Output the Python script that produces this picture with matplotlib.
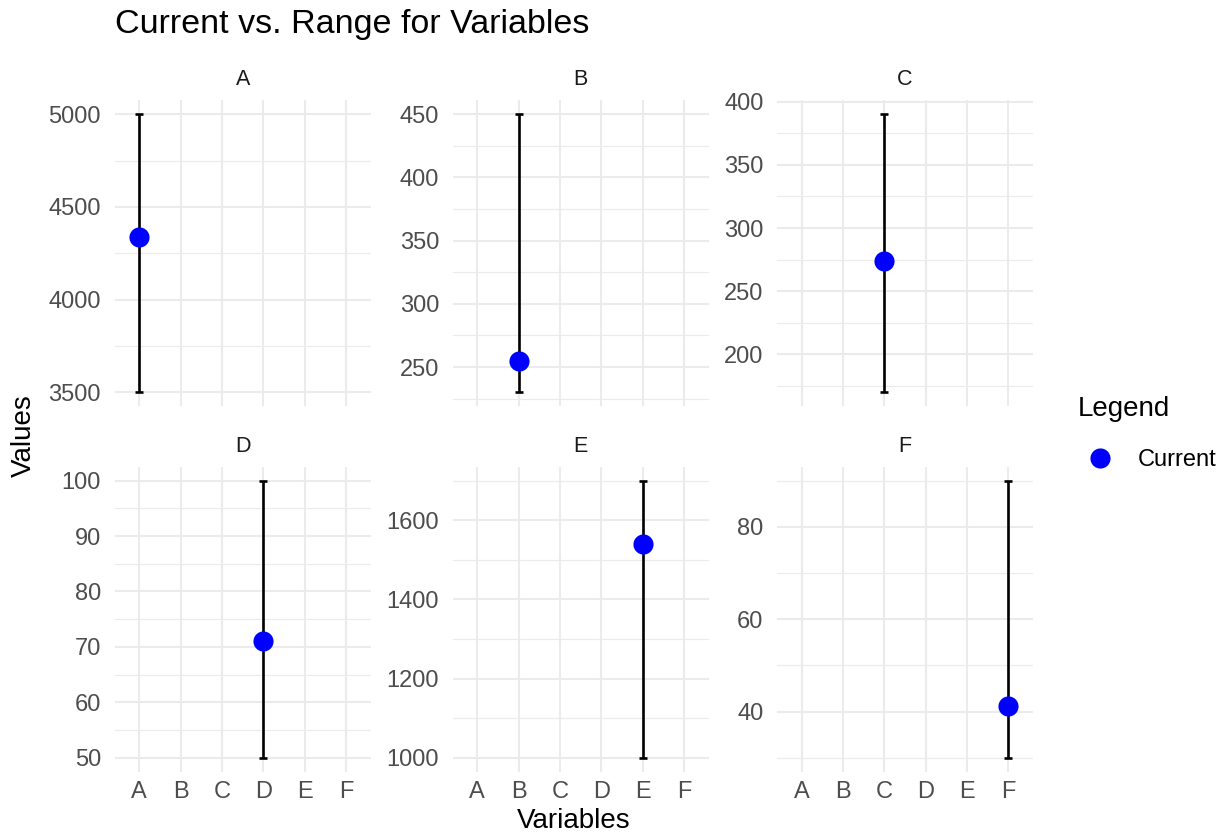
import matplotlib
matplotlib.use("Agg")
import matplotlib.pyplot as plt
from matplotlib.ticker import MultipleLocator, NullLocator

plt.rcParams['font.family'] = ['Liberation Sans', 'DejaVu Sans']

# data
variables = ["A", "B", "C", "D", "E", "F"]
current = [4340, 255, 274, 71, 1540, 41.3]
min_vals = [3500, 230, 170, 50, 1000, 30]
max_vals = [5000, 450, 390, 100, 1700, 90]
major_step = [500, 50, 50, 10, 200, 20]

W, H = 1226, 840
fig = plt.figure(figsize=(W / 100, H / 100), dpi=100)


def box(l, t, r, b):
    return [l / W, 1 - b / H, (r - l) / W, (b - t) / H]


col_edges = [(114.5, 370.8), (452.5, 708.8), (777.0, 1033.2)]
row_edges = [(100.4, 406.2), (466.8, 771.6)]

grid_col = "#EBEBEB"
handle = None

for i, var in enumerate(variables):
    r, c = divmod(i, 3)
    l, rr = col_edges[c]
    t, b = row_edges[r]
    ax = fig.add_axes(box(l, t, rr, b))

    # errorbar for the range, dot for the current value
    ax.errorbar([i], [current[i]],
                yerr=[[current[i] - min_vals[i]], [max_vals[i] - current[i]]],
                fmt="none", ecolor="black", elinewidth=1.9,
                capsize=3.0, capthick=1.9, zorder=3)
    h, = ax.plot([i], [current[i]], "o", color="blue", markersize=14.5,
                 markeredgewidth=0, zorder=4, label="Current")
    handle = h

    # ggplot style limits (5% expansion on y, 0.6 on discrete x)
    span = max_vals[i] - min_vals[i]
    ax.set_ylim(min_vals[i] - 0.05 * span, max_vals[i] + 0.05 * span)
    ax.set_xlim(-0.6, len(variables) - 0.4)

    ax.yaxis.set_major_locator(MultipleLocator(major_step[i]))
    ax.yaxis.set_minor_locator(MultipleLocator(major_step[i] / 2))
    ax.set_xticks(range(len(variables)))
    ax.xaxis.set_minor_locator(NullLocator())
    if r == 1:
        ax.set_xticklabels(variables)
    else:
        ax.set_xticklabels([])

    ax.grid(True, which="major", color=grid_col, linewidth=1.5, zorder=0)
    ax.grid(True, which="minor", axis="y", color=grid_col, linewidth=0.8, zorder=0)
    ax.set_axisbelow(True)
    for s in ax.spines.values():
        s.set_visible(False)
    ax.tick_params(which="both", length=0)
    ax.tick_params(axis="y", pad=9.7, labelsize=17, labelcolor="#4D4D4D")
    ax.tick_params(axis="x", pad=7, labelsize=17, labelcolor="#4D4D4D")

    ax.text(0.5, 1 + 15.3 / (b - t), var, transform=ax.transAxes,
            ha="center", va="baseline", fontsize=15.5, color="#1A1A1A")

fig.text(115 / W, 1 - 33.3 / H, "Current vs. Range for Variables",
         ha="left", va="baseline", fontsize=24.5)
fig.text((114.5 + 1033.2) / 2 / W, 1 - 828.3 / H, "Variables",
         ha="center", va="baseline", fontsize=20)
fig.text(24 / W, 1 - 436 / H, "Values", rotation=90,
         ha="center", va="center", fontsize=20)

fig.legend([handle], ["Current"], title="Legend", loc="upper left",
           bbox_to_anchor=(1078 / W, 1 - 396 / H), frameon=False,
           borderpad=0, borderaxespad=0, handlelength=1.86,
           handletextpad=0.68, labelspacing=1.15, fontsize=17,
           title_fontsize=20, alignment="left")

fig.savefig("out.png", dpi=100)
